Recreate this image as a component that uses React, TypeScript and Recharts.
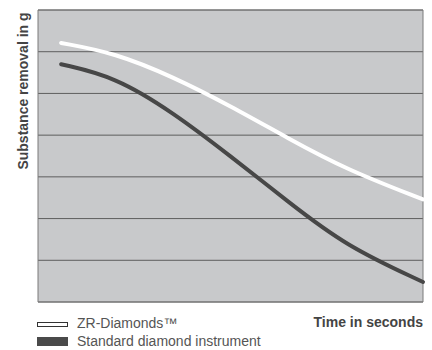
import { LineChart, Line, XAxis, YAxis, CartesianGrid, ReferenceArea } from "recharts";

// Zeit (relative Skala, 0–100) und Abtrag in g (0–7)
const timePoints = [6, 20, 35, 50, 65, 80, 100];
const zrDiamonds = [6.21, 5.97, 5.4, 4.7, 3.92, 3.18, 2.46];
const standardInstrument = [5.7, 5.4, 4.55, 3.5, 2.4, 1.34, 0.48];
const yTicks = [0, 1, 2, 3, 4, 5, 6, 7];

const seriesNames = ["ZR-Diamonds™", "Standard diamond instrument"];

const chartData = timePoints.map((t, i) => ({
  t,
  zr: zrDiamonds[i],
  std: standardInstrument[i],
}));

const font = '"Liberation Sans", Arial, sans-serif';

export default function App() {
  return (
    <div style={{ position: "relative", width: 432, height: 350, fontFamily: font, background: "#fff" }}>
      <style>{"body{margin:0}"}</style>
      <LineChart width={432} height={350} data={chartData} margin={{ top: 10, right: 9, left: 38, bottom: 48 }}>
        <XAxis dataKey="t" type="number" domain={[0, 100]} hide />
        <YAxis domain={[0, 7]} ticks={yTicks} hide />
        <CartesianGrid
          vertical={false}
          horizontalValues={yTicks}
          stroke="#5e5e5e"
          strokeWidth={1}
          fill="#c8c9cb"
          fillOpacity={1}
        />
        <ReferenceArea x1={0} x2={100} y1={0} y2={7} fill="none" fillOpacity={0} stroke="#7a7a7a" strokeWidth={1} />
        <Line
          dataKey="zr"
          type="basis"
          stroke="#ffffff"
          strokeWidth={4}
          strokeLinecap="round"
          dot={false}
          isAnimationActive={false}
        />
        <Line
          dataKey="std"
          type="basis"
          stroke="#474747"
          strokeWidth={4}
          strokeLinecap="round"
          dot={false}
          isAnimationActive={false}
        />
      </LineChart>

      <div
        style={{
          position: "absolute",
          left: 23,
          top: 91,
          transform: "translate(-50%, -50%) rotate(-90deg)",
          whiteSpace: "nowrap",
          fontSize: 14,
          lineHeight: "16px",
          fontWeight: 700,
          color: "#444",
        }}
      >
        Substance removal in g
      </div>

      <div
        style={{
          position: "absolute",
          right: 9,
          top: 314,
          fontSize: 14,
          lineHeight: "16px",
          fontWeight: 700,
          color: "#444",
          whiteSpace: "nowrap",
        }}
      >
        Time in seconds
      </div>

      <div style={{ position: "absolute", left: 37, top: 314, fontSize: 14, lineHeight: "18px", color: "#555" }}>
        <div style={{ display: "flex", alignItems: "center" }}>
          <span
            style={{
              display: "inline-block",
              width: 29,
              height: 3,
              background: "#fff",
              border: "1px solid #333",
              marginRight: 9,
              marginTop: 3,
            }}
          />
          {seriesNames[0]}
        </div>
        <div style={{ display: "flex", alignItems: "center" }}>
          <span
            style={{
              display: "inline-block",
              width: 31,
              height: 9,
              background: "#4a4a4a",
              marginRight: 9,
              marginTop: 1,
            }}
          />
          {seriesNames[1]}
        </div>
      </div>
    </div>
  );
}
